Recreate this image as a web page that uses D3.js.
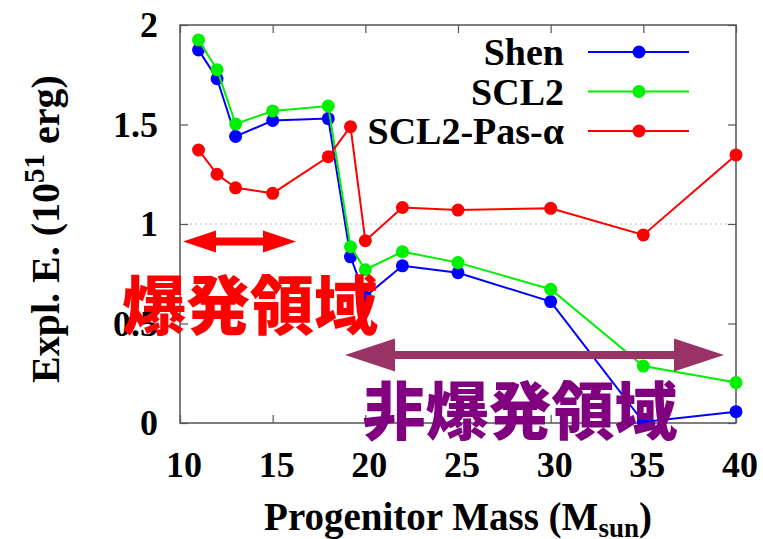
<!DOCTYPE html>
<html lang="ja">
<head>
<meta charset="UTF-8">
<title>Explosion energy vs progenitor mass</title>
<script src="https://cdn.jsdelivr.net/npm/d3@7"></script>
<style>
  body { margin: 0; background: #fff; }
  text { font-family: "Liberation Serif", "DejaVu Serif", serif; font-weight: bold; }
  .jp { font-family: "Noto Sans CJK JP", sans-serif; font-weight: 900; }
</style>
</head>
<body>
<script>
// progenitor masses (M_sun)
const mass = [11, 12, 13, 15, 18, 19.2, 20, 22, 25, 30, 35, 40]
// explosion energies (10^51 erg)
const shen = [1.875, 1.73, 1.44, 1.52, 1.53, 0.835, 0.635, 0.79, 0.755, 0.61, 0.005, 0.057]
const scl2 = [1.925, 1.775, 1.503, 1.568, 1.593, 0.886, 0.77, 0.861, 0.806, 0.672, 0.286, 0.203]
const pasAlpha = [1.372, 1.25, 1.182, 1.154, 1.338, 1.489, 0.916, 1.083, 1.07, 1.079, 0.945, 1.347]

const seriesNames = ["Shen", "SCL2", "SCL2-Pas-α"]
const seriesColors = ["#0000ff", "#00f000", "#ff0000"]
const xTicks = [10, 15, 20, 25, 30, 35, 40]
const yTicks = [0, 0.5, 1, 1.5, 2]

const width = 763, height = 539
const pLeft = 180, pRight = 736, pTop = 25, pBottom = 423

const svg = d3.select("body").append("svg")
  .attr("width", width).attr("height", height)

const x = d3.scaleLinear().domain([10, 40]).range([pLeft, pRight])
const y = d3.scaleLinear().domain([0, 2]).range([pBottom, pTop])

// dotted line at 1
svg.append("line")
  .attr("x1", pLeft).attr("x2", pRight)
  .attr("y1", y(1)).attr("y2", y(1))
  .attr("stroke", "#bbb").attr("stroke-width", 1)
  .attr("stroke-dasharray", "2,3")

// inward ticks on all four sides
const tk = 8
svg.append("g").attr("transform", `translate(0,${pBottom})`)
  .call(d3.axisBottom(x).tickValues(xTicks).tickSize(-tk).tickFormat(""))
svg.append("g").attr("transform", `translate(0,${pTop})`)
  .call(d3.axisTop(x).tickValues(xTicks).tickSize(-tk).tickFormat(""))
svg.append("g").attr("transform", `translate(${pLeft},0)`)
  .call(d3.axisLeft(y).tickValues(yTicks).tickSize(-tk).tickFormat(""))
svg.append("g").attr("transform", `translate(${pRight},0)`)
  .call(d3.axisRight(y).tickValues(yTicks).tickSize(-tk).tickFormat(""))
svg.selectAll(".domain").remove()
svg.selectAll(".tick line").attr("stroke", "#555").attr("stroke-width", 1.2)

// frame
svg.append("rect")
  .attr("x", pLeft).attr("y", pTop)
  .attr("width", pRight - pLeft).attr("height", pBottom - pTop)
  .attr("fill", "none").attr("stroke", "#555").attr("stroke-width", 1.5)

// tick labels
svg.selectAll(".xl").data(xTicks).enter().append("text")
  .attr("x", d => x(d) + 4).attr("y", 477)
  .attr("text-anchor", "middle").style("font-size", "36px")
  .text(d => d)
svg.selectAll(".yl").data(yTicks).enter().append("text")
  .attr("x", 158).attr("y", d => y(d) + 12)
  .attr("text-anchor", "end").style("font-size", "36px")
  .text(d => d)

// axis titles
const xt = svg.append("text")
  .attr("x", 458).attr("y", 530)
  .attr("text-anchor", "middle").style("font-size", "39px")
xt.append("tspan").text("Progenitor Mass (M")
xt.append("tspan").attr("dy", 7).style("font-size", "27px").text("sun")
xt.append("tspan").attr("dy", -7).text(")")

const yt = svg.append("text")
  .attr("transform", "translate(59,229) rotate(-90)")
  .attr("text-anchor", "middle").style("font-size", "40px")
yt.append("tspan").text("Expl. E. (10")
yt.append("tspan").attr("dy", -15).style("font-size", "29px").text("51")
yt.append("tspan").attr("dy", 15).text(" erg)")

// series
const allSeries = [shen, scl2, pasAlpha]
const line = d3.line().x(d => x(d[0])).y(d => y(d[1]))
allSeries.forEach((vals, i) => {
  const pts = mass.map((m, j) => [m, vals[j]])
  svg.append("path")
    .attr("d", line(pts))
    .attr("fill", "none").attr("stroke", seriesColors[i]).attr("stroke-width", 2)
  svg.selectAll(".p" + i).data(pts).enter().append("circle")
    .attr("cx", d => x(d[0])).attr("cy", d => y(d[1])).attr("r", 6.5)
    .attr("fill", seriesColors[i])
})

// legend
const legendY = [52, 91.5, 131]
seriesNames.forEach((name, i) => {
  const ly = legendY[i]
  svg.append("text")
    .attr("x", 564).attr("y", ly + 13)
    .attr("text-anchor", "end").style("font-size", "38px")
    .text(name)
  svg.append("line")
    .attr("x1", 588).attr("x2", 689).attr("y1", ly).attr("y2", ly)
    .attr("stroke", seriesColors[i]).attr("stroke-width", 2)
  svg.append("circle")
    .attr("cx", 639).attr("cy", ly).attr("r", 6.5)
    .attr("fill", seriesColors[i])
})

// double headed arrows
function doubleArrow(x1, x2, yy, headLen, headH, shaft, color) {
  const h = headH / 2, s = shaft / 2
  const pts = [
    [x1, yy], [x1 + headLen, yy - h], [x1 + headLen, yy - s],
    [x2 - headLen, yy - s], [x2 - headLen, yy - h], [x2, yy],
    [x2 - headLen, yy + h], [x2 - headLen, yy + s],
    [x1 + headLen, yy + s], [x1 + headLen, yy + h]
  ]
  svg.append("path")
    .attr("d", d3.line()(pts) + "Z")
    .attr("fill", color)
}
doubleArrow(183, 296, 241.5, 33, 22, 8, "#ff0000")
doubleArrow(345, 724, 355, 50, 33, 8, "#993366")

svg.append("text").attr("class", "jp")
  .attr("x", 250).attr("y", 329)
  .attr("text-anchor", "middle").style("font-size", "64px")
  .attr("fill", "#ff0000")
  .text("爆発領域")
svg.append("text").attr("class", "jp")
  .attr("x", 520).attr("y", 434)
  .attr("text-anchor", "middle").style("font-size", "63px")
  .attr("fill", "#800080")
  .text("非爆発領域")
</script>
</body>
</html>
